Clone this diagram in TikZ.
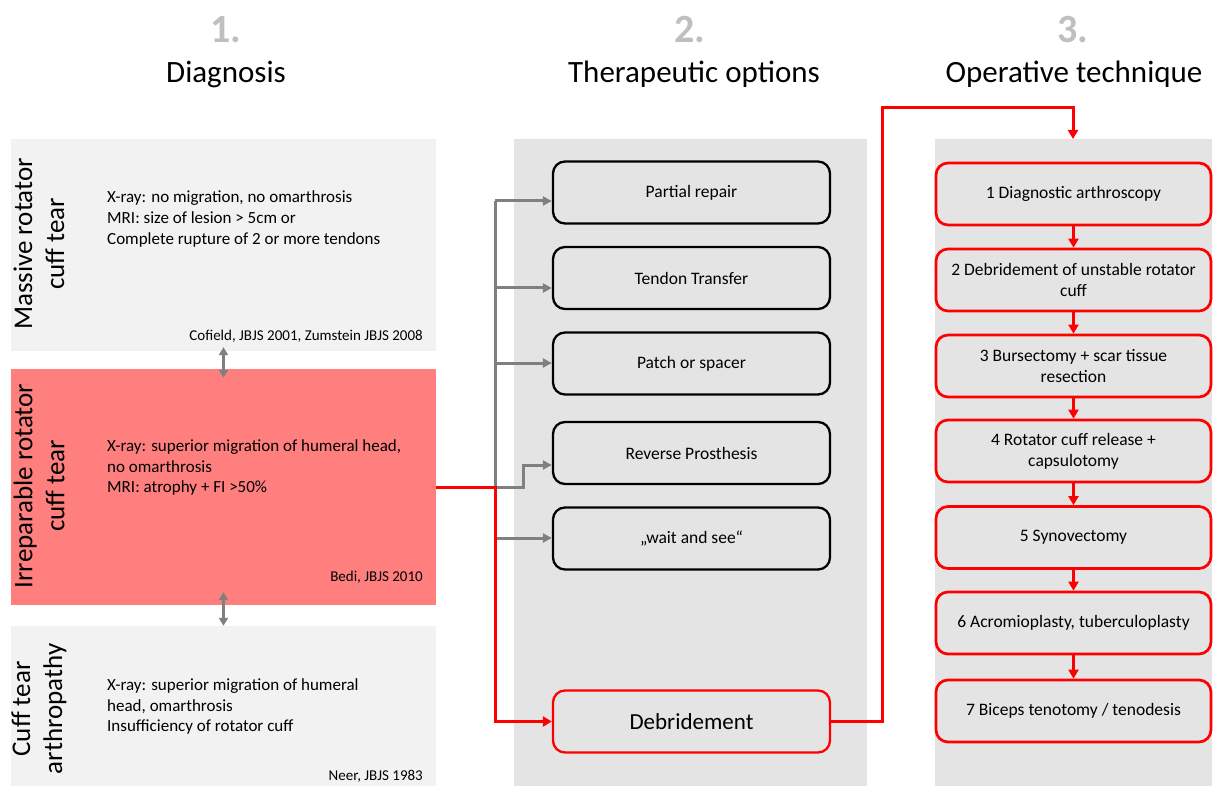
\documentclass[tikz,border=0pt]{standalone}
\usepackage{fontspec}
\setmainfont{Carlito}
\usetikzlibrary{arrows.meta}
\definecolor{lightbg}{HTML}{F2F2F2}
\definecolor{colbg}{HTML}{E4E4E4}
\definecolor{redfill}{HTML}{FF7F7F}
\definecolor{myred}{HTML}{FF0000}
\definecolor{mygray}{HTML}{808080}
\definecolor{numgray}{HTML}{BFBFBF}
\begin{document}
\begin{tikzpicture}[x=1pt,y=-1pt,
  leftbox/.style={draw=none, fill=lightbg, inner sep=0pt, minimum width=425pt},
  colpanel/.style={draw=none, fill=colbg, inner sep=0pt, minimum height=647pt},
  sidelabel/.style={rotate=90, align=center, inner sep=0pt, font=\fontsize{27}{32}\selectfont},
  bodytext/.style={align=left, inner sep=0pt, anchor=west, font=\fontsize{17}{20.7}\selectfont},
  reftext/.style={inner sep=0pt, anchor=base east, font=\fontsize{15}{18}\selectfont},
  numhead/.style={inner sep=0pt, anchor=base, text=numgray, font=\fontsize{40}{44}\selectfont\bfseries},
  titlehead/.style={inner sep=0pt, anchor=base, font=\fontsize{31}{36}\selectfont},
  optbox/.style={draw=black, line width=2.3pt, rounded corners=12pt, minimum width=277pt, minimum height=62pt, inner sep=0pt, align=center, font=\fontsize{17.5}{20.5}\selectfont},
  stepbox/.style={draw=myred, line width=2.7pt, rounded corners=12pt, minimum width=275pt, minimum height=62pt, inner sep=0pt, align=center, font=\fontsize{17.5}{21}\selectfont},
  grayarrow/.style={draw=mygray, line width=3pt, -{Triangle[length=9pt,width=9pt]}},
  dblarrow/.style={draw=mygray, line width=2.5pt, {Triangle[length=8pt,width=9pt]}-{Triangle[length=8pt,width=9pt]}},
  redarrow/.style={draw=myred, line width=3pt, -{Triangle[length=9pt,width=10pt]}}
]
\useasboundingbox (0,0) rectangle (1213,786);

% headings
\node[numhead] (n1) at (226,43) {1.};
\node[titlehead] (h1) at (226,83) {Diagnosis};
\node[numhead] (n2) at (690,43) {2.};
\node[titlehead] (h2) at (694,83) {Therapeutic options};
\node[numhead] (n3) at (1073,43) {3.};
\node[titlehead] (h3) at (1074,83) {Operative technique};

% left column
\node[leftbox, minimum height=212pt] (massive) at (223.5,245) {};
\node[leftbox, fill=redfill, minimum height=236pt] (irr) at (223.5,487) {};
\node[leftbox, minimum height=160pt] (cta) at (223.5,706) {};

\node[sidelabel] (massiveL) at (39,244) {Massive rotator\\cuff tear};
\node[sidelabel] (irrL) at (39,486) {Irreparable rotator\\cuff tear};
\node[sidelabel] (ctaL) at (39,709) {Cuff tear\\arthropathy};

\node[bodytext] (massiveT) at (107,219) {X-ray: no migration, no omarthrosis\\MRI: size of lesion > 5cm or\\Complete rupture of 2 or more tendons};
\node[bodytext] (irrT) at (107,467.5) {X-ray: superior migration of humeral head,\\no omarthrosis\\MRI: atrophy + FI >50\%};
\node[bodytext] (ctaT) at (107,706.5) {X-ray: superior migration of humeral\\head, omarthrosis\\Insufficiency of rotator cuff};

\node[reftext] (massiveR) at (423,341) {Cofield, JBJS 2001, Zumstein JBJS 2008};
\node[reftext] (irrR) at (423,581) {Bedi, JBJS 2010};
\node[reftext] (ctaR) at (423,780) {Neer, JBJS 1983};

\draw[dblarrow] ([yshift=4pt]massive.south) -- ([yshift=-9pt]irr.north);
\draw[dblarrow] ([yshift=13pt]irr.south) -- (cta.north);

% column panels
\node[colpanel, minimum width=353pt] (col2) at (690.5,462.5) {};
\node[colpanel, minimum width=277pt] (col3) at (1073.5,462.5) {};

% therapeutic options
\node[optbox] (partial) at (691.5,192.5) {Partial repair};
\node[optbox] (tendon) at (691.5,278) {Tendon Transfer};
\node[optbox] (patch) at (691.5,363.5) {Patch or spacer};
\node[optbox] (reverse) at (691.5,453) {Reverse Prosthesis};
\node[optbox] (wait) at (691.5,538.5) {„wait and see“};
\node[optbox, draw=myred, font=\fontsize{23}{26}\selectfont] (debr) at (691.5,721.5) {Debridement};

% operative technique
\node[stepbox] (s1) at (1073.5,194) {1 Diagnostic arthroscopy};
\node[stepbox] (s2) at (1073.5,280) {2 Debridement of unstable rotator\\cuff};
\node[stepbox] (s3) at (1073.5,366) {3 Bursectomy + scar tissue\\resection};
\node[stepbox] (s4) at (1073.5,451) {4 Rotator cuff release +\\capsulotomy};
\node[stepbox] (s5) at (1073.5,537.5) {5 Synovectomy};
\node[stepbox] (s6) at (1073.5,623) {6 Acromioplasty, tuberculoplasty};
\node[stepbox] (s7) at (1073.5,711) {7 Biceps tenotomy / tenodesis};

% gray connectors
\coordinate (t1) at (495,201);
\coordinate (t2) at (495,288);
\coordinate (t3) at (495,363);
\coordinate (t5) at (495,538);
\coordinate (j) at (495,487);
\coordinate (k) at (523,487);
\coordinate (r) at (523,465);
\draw[draw=mygray, line width=3pt] (t1) -- (t5);
\draw[grayarrow] (t1) -- (t1 -| partial.west);
\draw[grayarrow] (t2) -- (t2 -| tendon.west);
\draw[grayarrow] (t3) -- (t3 -| patch.west);
\draw[grayarrow] (j) -- (k) -- (r) -- (r -| reverse.west);
\draw[grayarrow] (t5) -- (t5 -| wait.west);

% red path
\draw[redarrow] (irr.east) -- (j) |- (debr.west);
\coordinate (u1) at (882,108);
\coordinate (u2) at (1073,108);
\coordinate (c3top) at (1073,139);
\draw[redarrow] (debr.east) -| (u1) -- (u2) -- (c3top);

\draw[redarrow] (s1.south) -- (s2.north);
\draw[redarrow] (s2.south) -- (s3.north);
\draw[redarrow] (s3.south) -- (s4.north);
\draw[redarrow] (s4.south) -- (s5.north);
\draw[redarrow] (s5.south) -- (s6.north);
\draw[redarrow] (s6.south) -- (s7.north);
\end{tikzpicture}
\end{document}
